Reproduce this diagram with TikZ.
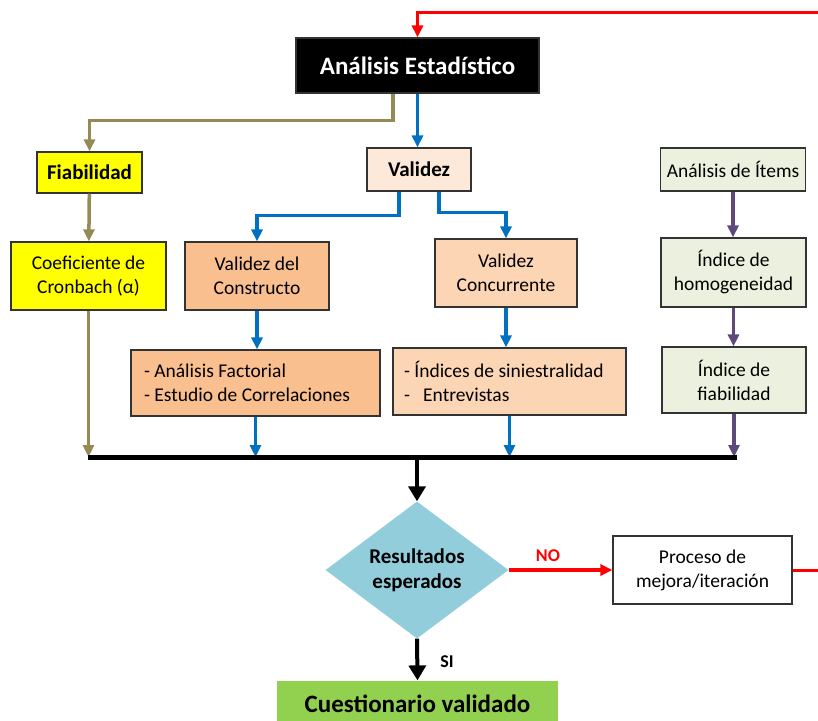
\documentclass[tikz,border=0pt]{standalone}
\usepackage{fontspec}
\setmainfont{Carlito}
\usetikzlibrary{arrows.meta,shapes.geometric}

\definecolor{olivelin}{HTML}{948A54}
\definecolor{bluelin}{HTML}{0070C0}
\definecolor{purplelin}{HTML}{5F497A}
\definecolor{redlin}{HTML}{FF0000}
\definecolor{fiabfill}{HTML}{FFFF00}
\definecolor{valfill}{HTML}{FDE9D9}
\definecolor{constrfill}{HTML}{F9BF8F}
\definecolor{concurfill}{HTML}{FCD5B5}
\definecolor{itemfill}{HTML}{EBF1DE}
\definecolor{decfill}{HTML}{92CDDC}
\definecolor{okfill}{HTML}{92D050}

\newcommand\bodyfont{\fontsize{19.5}{24}\selectfont}
\newcommand\headfont{\fontsize{21}{25}\selectfont\bfseries}
\newcommand\titlefont{\fontsize{25}{30}\selectfont\bfseries}

\begin{document}
\begin{tikzpicture}
  [x=1pt,y=-1pt,
   box/.style={draw=black!80,line width=1.2pt,inner sep=0pt,align=center,font=\bodyfont},
   boxsize/.style 2 args={minimum width=#1pt,minimum height=#2pt},
   listbox/.style={box,align=flush left,text width=#1pt},
   conn/.style={line width=3.5pt,-{Triangle[length=12pt,width=11pt]}},
   bigconn/.style={line width=4pt,-{Triangle[length=15pt,width=17pt]}}]
  \useasboundingbox (0,0) rectangle (818,720);
  \clip (0,0) rectangle (818,720);

  \node[box,fill=black,text=white,font=\titlefont,boxsize={243}{55}] (est) at (417.5,65.5) {Análisis Estadístico};

  \node[box,fill=fiabfill,font=\headfont,boxsize={105}{41}] (fiab) at (89.5,172.5) {Fiabilidad};
  \node[box,fill=valfill,font=\headfont,boxsize={104}{43}] (val) at (419,169.5) {Validez};
  \node[box,fill=itemfill,boxsize={145}{43}] (items) at (733,169.5) {Análisis de Ítems};

  \node[box,fill=fiabfill,boxsize={155}{68}] (cron) at (88.5,276) {Coeficiente de\\Cronbach (α)};
  \node[box,fill=constrfill,boxsize={144}{68}] (constr) at (257,276) {Validez del\\Constructo};
  \node[box,fill=concurfill,boxsize={142}{68}] (concur) at (506,273) {Validez\\Concurrente};
  \node[box,fill=itemfill,boxsize={145}{69}] (homog) at (733.5,272.5) {Índice de\\homogeneidad};

  \node[listbox=223,fill=constrfill,boxsize={249}{66}] (factor) at (255.5,383) {- Análisis Factorial\\- Estudio de Correlaciones};
  \node[listbox=211,fill=concurfill,boxsize={233}{67}] (indices) at (509.5,381.5) {- Índices de siniestralidad\\-\ \ \ Entrevistas};
  \node[box,fill=itemfill,boxsize={144}{66}] (fiabil) at (734,380) {Índice de\\fiabilidad};

  \coordinate (barl) at (88,457);
  \coordinate (barr) at (737,457);
  \coordinate (barm) at (417,457);

  \node[diamond,aspect=1.34,fill=decfill,inner sep=0pt,align=center,font=\headfont,
        minimum width=183pt,minimum height=137pt] (dec) at (417,570) {Resultados\\esperados};
  \node[box,fill=white,boxsize={179}{68}] (proceso) at (702.5,570) {Proceso de\\mejora/iteración};
  \node[box,draw=none,fill=okfill,font=\titlefont,boxsize={281}{45}] (final) at (417.5,703.5) {Cuestionario validado};

  \node[font=\fontsize{18}{20}\selectfont\bfseries,text=redlin] (no) at (548,556) {NO};
  \node[font=\fontsize{18}{20}\selectfont\bfseries] (si) at (447,662) {SI};

  \coordinate (loop) at (417.5,12);
  \coordinate (back) at (840,12);

  % upper level
  \draw[conn,olivelin] ([xshift=-24.5pt]est.south) -- ++(0,27) -| (fiab.north);
  \draw[conn,bluelin] (est.south) -- (est.south |- val.north);
  \draw[conn,bluelin] ([xshift=-20pt]val.south) -- ++(0,24) -| (constr.north);
  \draw[conn,bluelin] ([xshift=20pt]val.south) -- ++(0,21) -| (concur.north);
  \draw[conn,olivelin] (fiab) -- (cron);
  \draw[conn,bluelin] (constr.south) -- (constr.south |- factor.north);
  \draw[conn,bluelin] (concur.south) -- (concur.south |- indices.north);

  \foreach \from/\to in {items/homog,homog/fiabil}
    \draw[conn,purplelin] (\from.south) -- (\from.south |- \to.north);

  % down to the bar
  \draw[conn,olivelin] (cron.south) -- (cron.south |- barl);
  \foreach \from in {factor,indices}
    \draw[conn,bluelin] (\from.south) -- (\from.south |- barl);
  \draw[conn,purplelin] (fiabil.south) -- (fiabil.south |- barl);
  \draw[line width=5pt] (barl) -- (barr);

  % decision
  \draw[bigconn] (barm) -- (dec.north);
  \draw[bigconn] (dec.south) -- (final.north);
  \draw[conn,redlin,line width=4pt] (dec.east) -- (proceso.west);
  \draw[conn,redlin,line width=3pt] (proceso.east) -| (back) -- (loop) -- (est.north);
\end{tikzpicture}
\end{document}
